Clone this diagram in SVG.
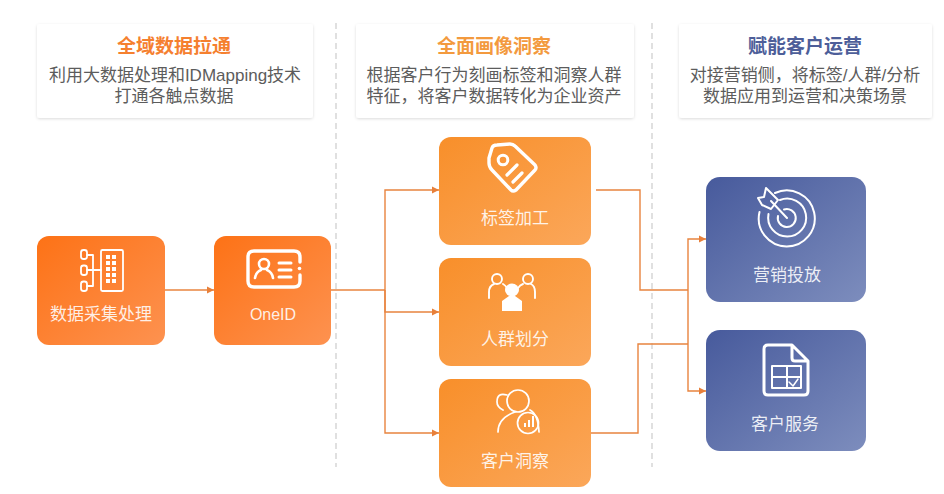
<svg xmlns="http://www.w3.org/2000/svg" width="944" height="494" viewBox="0 0 944 494">
<style>
text{font-family:"Liberation Sans","Noto Sans CJK SC",sans-serif;text-anchor:middle}
.t{font-size:19px;font-weight:700}
.b{font-size:17px;fill:#5c5c5c}
.l{font-size:17px;fill:#fff;fill-opacity:.88}
.card{fill:#fff;filter:url(#sh)}
.dash{stroke:#d9d9d9;stroke-width:1.6;stroke-dasharray:6 4;fill:none}
.c{fill:none;stroke:#e8843f;stroke-width:1.4}
.i{fill:none;stroke:#fff;stroke-width:2.6;stroke-linecap:round;stroke-linejoin:round}
.f{fill:#fff;stroke:none}
</style>
<defs>
<filter id="sh" x="-5%" y="-10%" width="110%" height="125%"><feDropShadow dx="0" dy="1" stdDeviation="1.6" flood-color="#000" flood-opacity=".14"/></filter>
<linearGradient id="g1" x1="0" y1="0" x2="1" y2="1"><stop offset="0" stop-color="#fd7216"/><stop offset="1" stop-color="#fd9250"/></linearGradient>
<linearGradient id="g2" x1="0" y1="0" x2="1" y2="1"><stop offset="0" stop-color="#f88f2a"/><stop offset="1" stop-color="#fba75a"/></linearGradient>
<linearGradient id="g3" x1="0" y1="0" x2="1" y2="1"><stop offset="0" stop-color="#475a9c"/><stop offset="1" stop-color="#7d8dbd"/></linearGradient>
<marker id="a" markerUnits="userSpaceOnUse" markerWidth="8" markerHeight="8" refX="7" refY="4" orient="auto"><path d="M0 .5L7 4L0 7.5Z" fill="#e8803a"/></marker>
</defs>
<rect width="944" height="494" fill="#fff"/>

<path class="dash" d="M336 23V467"/>
<path class="dash" d="M652 23V467"/>

<g id="card-1"><rect class="card" x="37" y="24" width="276" height="94" rx="3"/>
<text class="t" x="174" y="53" fill="#f5802f">全域数据拉通</text>
<text class="b" x="175" y="81">利用大数据处理和IDMapping技术</text>
<text class="b" x="174" y="102">打通各触点数据</text></g>
<g id="card-2"><rect class="card" x="356" y="24" width="278" height="94" rx="3"/>
<text class="t" x="494" y="53" fill="#f39a3e">全面画像洞察</text>
<text class="b" x="494" y="81">根据客户行为刻画标签和洞察人群</text>
<text class="b" x="494" y="102">特征，将客户数据转化为企业资产</text></g>
<g id="card-3"><rect class="card" x="679" y="24" width="253" height="94" rx="3"/>
<text class="t" x="805" y="53" fill="#4d5e99">赋能客户运营</text>
<text class="b" x="805" y="81">对接营销侧，将标签/人群/分析</text>
<text class="b" x="805" y="102">数据应用到运营和决策场景</text></g>

<g id="connectors">
<path class="c" d="M165 290H214" marker-end="url(#a)"/>
<path class="c" d="M331 290H385"/>
<path class="c" d="M385 312V190H439" marker-end="url(#a)"/>
<path class="c" d="M385 290V312H439" marker-end="url(#a)"/>
<path class="c" d="M385 312V433H439" marker-end="url(#a)"/>
<path class="c" d="M596 190H640V290H688"/>
<path class="c" d="M591 433H638V344H688"/>
<path class="c" d="M688 290V239H706" marker-end="url(#a)"/>
<path class="c" d="M688 290V391H706" marker-end="url(#a)"/>
</g>

<g id="node-collect">
<rect x="37" y="236" width="128" height="109" rx="12" fill="url(#g1)"/>
<g class="i" style="stroke-width:1.8">
<rect x="81" y="250" width="6" height="9" rx="2.5"/><rect x="81" y="265.500" width="6" height="9.500" rx="2.500"/><rect x="81" y="281.500" width="6" height="9.500" rx="2.500"/>
<path d="M87 255H93V286H87M87 270H101"/><rect x="101" y="250" width="22" height="41" rx="1.500"/></g>
<path class="f" d="M106 255h4v4h-4zM112 255h4v4h-4zM106 261h4v4h-4zM112 261h4v4h-4zM106 267h4v4h-4zM112 267h4v4h-4zM106 273h4v4h-4zM112 273h4v4h-4zM106 279h4v4h-4zM112 279h4v4h-4z"/>
<text class="l" x="101" y="320">数据采集处理</text></g>

<g id="node-oneid">
<rect x="214" y="236" width="117" height="109" rx="12" fill="url(#g1)"/>
<path class="i" style="stroke-width:3.400" d="M300 262V257Q300 251 294 251H254Q248 251 248 257V281Q248 287 254 287H294Q300 287 300 281V275"/>
<circle class="f" cx="299.500" cy="268.500" r="1.800"/>
<circle class="i" style="stroke-width:2.600" cx="264" cy="264" r="5"/>
<path class="i" style="stroke-width:2.600" d="M255 278Q256 272 261 270M273 278Q272 272 267 270"/>
<path class="i" style="stroke-width:3" d="M279 263H291M279 270H291M279 277H291"/>
<text class="l" x="273" y="320" style="font-size:16px">OneID</text></g>

<g id="node-tag">
<rect x="439" y="137" width="152" height="108" rx="12" fill="url(#g2)"/>
<path class="i" style="stroke-width:3.400" d="M489 158L492 148Q493 145 497 145L510 144Q513 144 515 146L535 165Q537 168 535 170L516 190Q513 192 511 190L492 170Q489 167 489 163Z"/>
<circle class="i" style="stroke-width:3" cx="503" cy="160" r="4.800"/>
<path class="i" style="stroke-width:3.200" d="M507 175L517 165M513 182L522 173"/>
<text class="l" x="515" y="224">标签加工</text></g>

<g id="node-people">
<rect x="439" y="258" width="152" height="108" rx="12" fill="url(#g2)"/>
<g class="i" style="stroke-width:1.900">
<circle cx="497" cy="279" r="5"/><circle cx="528" cy="279" r="5"/>
<path d="M489 298V292Q489 286 494 284M503 284Q505 285 507 288M535 298V292Q535 286 531 284M523 284Q520 285 518 288"/></g>
<ellipse class="f" cx="512" cy="290" rx="7" ry="6.500"/>
<path class="f" d="M509 296H515L522 301V311H502V301Z"/>
<text class="l" x="515" y="345">人群划分</text></g>

<g id="node-insight">
<rect x="439" y="379" width="152" height="108" rx="12" fill="url(#g2)"/>
<g class="i" style="stroke-width:1.700">
<circle cx="518" cy="401" r="11"/>
<path d="M507 395Q497 392 497 402Q497 407 503 410M498 432Q498 418 515 412"/>
<circle cx="528" cy="423" r="10.500"/>
<path d="M530 410Q538 414 539 432"/></g>
<path class="f" d="M524 423h2v4h-2zM528 420h2v7h-2zM532 416h2v11h-2z"/>
<text class="l" x="515" y="467">客户洞察</text></g>

<g id="node-marketing">
<rect x="706" y="177" width="160" height="125" rx="14" fill="url(#g3)"/>
<g class="i" style="stroke-width:2">
<path d="M775 193A28 28 0 1 1 759.500 212"/>
<path d="M780 200A19 19 0 1 1 768.500 214"/>
<path d="M784 209.500A9 9 0 1 1 778 216"/>
<path d="M787 218L771 201M758 198L764 197L766 188L778 200L771 209L762 205Z"/></g>
<text class="l" x="787" y="281">营销投放</text></g>

<g id="node-service">
<rect x="706" y="330" width="160" height="121" rx="14" fill="url(#g3)"/>
<path class="i" style="stroke-width:3" d="M792 345H768Q764 345 764 349V391Q764 395 768 395H804Q808 395 808 391V361ZM792 345V358Q792 361 795 361H808"/>
<path class="i" style="stroke-width:2" d="M772 366H801V388H772ZM772 377H801M787 366V388"/>
<path class="i" style="stroke-width:1.500" d="M789 382L793 386L798 379"/>
<text class="l" x="785" y="430">客户服务</text></g>
</svg>
